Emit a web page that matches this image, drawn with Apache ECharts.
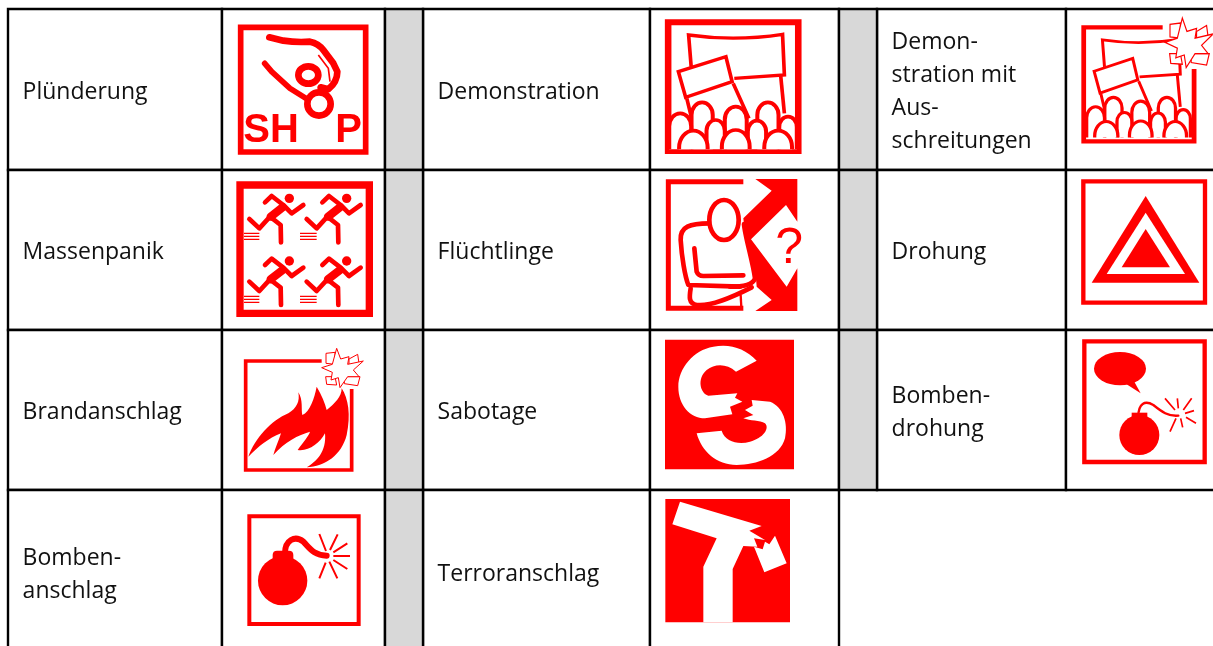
<!DOCTYPE html>
<html><head><meta charset="utf-8">
<style>html,body{margin:0;padding:0;background:#fff}#c{width:1213px;height:646px}</style>
<script src="https://cdn.jsdelivr.net/npm/echarts@6/dist/echarts.min.js"></script>
</head><body><div id="c"></div>
<script>
const columnEdges = [8, 222, 385, 423, 650, 839, 877, 1066, 1222];
const rowEdges = [9, 170, 330, 490, 654];
const gapColumns = [2, 5];
const labelsCol1 = ['Plünderung', 'Massenpanik', 'Brandanschlag', 'Bomben-\nanschlag'];
const labelsCol2 = ['Demonstration', 'Flüchtlinge', 'Sabotage', 'Terroranschlag'];
const labelsCol3 = ['Demon-\nstration mit\nAus-\nschreitungen', 'Drohung', 'Bomben-\ndrohung'];
const iconsCol1 = ['shop', 'panic', 'fire', 'bomb'];
const iconsCol2 = ['demo', 'refugee', 'sabotage', 'terror'];
const iconsCol3 = ['riot', 'threat', 'bombThreat'];
const RED = '#ff0000';

/* icon artwork: glyph outlines in a local grid */
const F = (d) => ({d, f: RED});
const S = (d, w, f) => ({d, s: RED, w, f: f || 'none'});
const R = (d, w, f) => ({d, s: RED, w, f: f || 'none', round: true});
const W = (d) => ({d, f: '#fff'});
const rectD = (a, b, c, e) => `M${a},${b}L${c},${b}L${c},${e}L${a},${e}Z`;
const circ = (x, y, r) => `M${x - r},${y}A${r},${r} 0 1 1 ${x + r},${y}A${r},${r} 0 1 1 ${x - r},${y}Z`;
const ell = (x, y, a, b) => `M${x - a},${y}A${a},${b} 0 1 1 ${x + a},${y}A${a},${b} 0 1 1 ${x - a},${y}Z`;
const arch = (x, t, r, b) => {
  const ry = Math.min(r * 1.3, b - t);
  return `M${x - r},${b}L${x - r},${t + ry}A${r},${ry} 0 0 1 ${x + r},${t + ry}L${x + r},${b}`;
};

const crowdParts = [
  [170, 307, 29], [262, 320, 30], [350, 307, 29],
  [110, 340, 30], [207, 360, 25], [320, 362, 25], [405, 350, 24],
  [146, 392, 39], [262, 390, 38], [378, 392, 38]
].map(([x, t, r]) => S(arch(x, t, r, 448), 11, '#fff'));

const demoContent = [
  S('M140,200L133,105Q260,125 390,103L395,225L258,235', 10),
  S('M385,228L395,340', 10),
  S('M128,295L148,385M255,250L298,355', 10),
  S('M105,215L235,170L252,245L125,292Z', 10, '#fff'),
  ...crowdParts
];
const burstParts = [
  S('M330,88L303,85L303,55L330,52Z', 3, '#fff'),
  S('M372,72L398,58L402,85L372,90Z', 3, '#fff'),
  S('M358,125L405,125L398,152L358,146Z', 3, '#fff'),
  S('M302,125L330,125L335,150L305,148Z', 3, '#fff'),
  S('M335,40L347,72L372,65L368,88L415,78L385,105L402,125L368,125L345,158L340,128L318,135L322,112L290,98L322,88Z', 3, '#fff')
];
const runner = (dx, dy) => [
  {d: circ(208 + dx, 85 + dy, 14), f: RED},
  R(`M${188 + dx},${112 + dy}L${152 + dx},${140 + dy}`, 25),
  R(`M${190 + dx},${105 + dy}L${155 + dx},${78 + dy}L${135 + dx},${97 + dy}M${190 + dx},${105 + dy}L${215 + dx},${130 + dy}L${250 + dx},${105 + dy}`, 14),
  R(`M${150 + dx},${140 + dy}L${182 + dx},${165 + dy}L${183 + dx},${217 + dy}M${150 + dx},${140 + dy}L${118 + dx},${175 + dy}L${88 + dx},${147 + dy}`, 14)
];
const speed = (x0, x1, y) => S(`M${x0},${y}L${x1},${y}M${x0},${y + 9}L${x1},${y + 9}M${x0},${y + 18}L${x1},${y + 18}`, 4);

const iconArt = {
  shop: [{o: [0, 0], s: [1 / 3, 1 / 3], parts: [
    S(rectD(722, 82, 1097, 456), 17),
    R('M808,112L850,122Q890,128 930,125Q955,130 970,150L1000,190L1012,215Q1012,245 985,268L962,262', 20),
    R('M794,190L815,215L870,265L918,295', 17),
    R(ell(925, 225, 30, 26), 20),
    S('M955,165L985,205L990,245', 5),
    S(circ(957, 312, 35), 20),
    {t: 'SH', x: 730, y: 392, size: 120},
    {t: 'P', x: 1006, y: 392, size: 120}
  ]}],
  demo: [{o: [640, 0], s: [1 / 2.736, 1 / 3], parts: [
    S(rectD(77, 67, 433, 453), 18),
    ...demoContent
  ]}],
  riot: [
    {o: [640, 0], s: [1 / 2.736, 1 / 3], parts: [S('M1430,82L1214,82L1214,424L1516,424L1516,207', 13)]},
    {o: [1062.9, 10.1], s: [.813 / 2.736, .853 / 3], parts: demoContent},
    {o: [1165 - 290 * .385, 18 - 40 * .42], s: [.385, .42], parts: burstParts}
  ],
  panic: [{o: [220, 170], s: [1 / 3, 1 / 3], parts: [
    S(rectD(60, 45, 448, 430), 22),
    ...runner(0, 0), ...runner(172, 0), ...runner(0, 188), ...runner(172, 188),
    speed(72, 118, 190), speed(240, 290, 190), speed(72, 118, 379), speed(240, 290, 379)
  ]}],
  refugee: [{o: [650, 170], s: [1 / 3, 1 / 3], parts: [
    S('M280,35L55,35L55,415L280,415', 15),
    F('M316,27L442,27L442,155L408,105L303,208L410,350L442,295L442,423L316,423L365,390L320,350L318,325C310,280 285,200 282,162L280,145L365,62Z'),
    R('M178,160C120,160 90,170 92,210C95,260 105,320 115,345L270,350', 14),
    R('M133,235L140,305Q145,318 160,318L280,316', 14),
    R('M282,162C285,200 310,280 315,325C310,345 280,350 240,350', 14),
    R('M122,355C118,380 115,400 140,405C180,410 250,380 305,352', 14),
    S('M272,375L274,412', 7),
    S(ell(222, 150, 44, 60), 14, '#fff'),
    {t: '?', x: 376, y: 238, size: 150, regular: true}
  ]}],
  fire: [
    {o: [225, 335], s: [1 / 3, 1 / 3], parts: [
      S('M290,78L62,78L62,405L380,405L380,162', 11),
      F('M70,365C90,310 140,255 190,235C215,220 225,200 220,172C235,195 228,225 232,240C255,230 268,190 275,155C290,180 300,205 305,225C330,205 350,185 350,160C370,190 378,240 365,300C350,360 300,395 245,397C275,380 305,350 300,295C285,325 250,350 218,345C235,320 250,305 255,290C220,300 180,320 145,360C150,340 160,320 168,295C130,310 100,335 70,365Z')
    ]},
    {o: [225, 335], s: [1 / 3, 1 / 3], parts: burstParts}
  ],
  sabotage: [{o: [650, 335], s: [1 / 3, 1 / 3], parts: [
    F(rectD(45, 14, 432, 403)),
    W('M320,77C285,40 240,25 190,35C130,45 85,100 85,155C85,210 120,250 165,250L247,238L240,215L277,200L255,188L262,175L175,182C150,175 140,130 170,105C195,85 230,85 258,110Z'),
    W('M140,295L215,287C225,320 265,330 300,320C340,310 360,280 345,265C330,255 300,258 280,250L310,240L285,225L308,212L305,195L360,200C400,215 415,265 405,310C390,365 320,390 260,390C200,390 155,350 140,295Z')
  ]}],
  terror: [{o: [650, 490], s: [1 / 3, 1 / 3], parts: [
    F(rectD(46, 27, 420, 397)),
    W('M90,35L335,108L298,122L345,150L312,145L322,170L280,168L248,237L248,397L160,397L160,230L200,145L67,103Z'),
    W('M375,137L410,220L343,247L312,170L338,178L345,155L358,163Z')
  ]}],
  threat: [{o: [1070, 170], s: [1 / 3, 1 / 3], parts: [
    S(rectD(40, 34, 405, 398), 13),
    F('M227,78L388,338L65,338Z'), W('M227,128L345,312L110,312Z'), F('M227,177L300,292L155,292Z')
  ]}],
  bombThreat: [{o: [1070, 170], s: [1 / 3, 1 / 3], parts: [
    S(rectD(43, 514, 404, 876), 13),
    F(ell(150, 596, 78, 50)), F('M190,630L212,670L165,640Z'),
    F(circ(208, 795, 60)), F(rectD(185, 728, 232, 750)),
    R('M205,740C205,700 225,690 250,705C275,725 295,740 325,737', 7),
    S('M285,685L315,720M322,685L325,715M365,685L340,720M372,722L345,730M378,760L348,742M338,772L332,745M300,785L318,745', 5)
  ]}],
  bomb: [{o: [225, 490], s: [1 / 3, 1 / 3], parts: [
    S(rectD(73, 79, 401, 402), 12),
    F(circ(173, 272, 74)), F('M143,215L143,195Q143,182 156,182L192,182Q205,182 205,195L205,215Z'),
    R('M180,190C180,150 210,135 235,155C255,175 265,195 305,197', 18),
    S('M283,132L303,183M338,133L315,180M367,160L325,187M375,198L325,198M367,237L325,210M337,265L313,215M283,265L302,218', 6)
  ]}]
};

function toChildren(parts) {
  return parts.map(p => {
    if (p.t) return {type: 'text', style: {text: p.t, x: p.x, y: p.y, fill: RED, textAlign: 'left', textVerticalAlign: 'middle',
      font: `${p.regular ? '' : 'bold '}${p.size}px "Liberation Sans", Arial, sans-serif`}};
    return {type: 'path', shape: {pathData: p.d},
      style: {fill: p.f || 'none', stroke: p.s || 'none', lineWidth: p.w || 0,
        lineJoin: p.round ? 'round' : 'miter', lineCap: p.round ? 'round' : 'butt'}};
  });
}

/* table rows built from the lists */
const columnLists = [[0, labelsCol1, iconsCol1], [3, labelsCol2, iconsCol2], [6, labelsCol3, iconsCol3]];
const cellData = [];
columnLists.forEach(([c, labels]) => {
  labels.forEach((_, r) => {
    cellData.push([columnEdges[c], columnEdges[c + 1], rowEdges[r], rowEdges[r + 1], 0]);
    cellData.push([columnEdges[c + 1], columnEdges[c + 2], rowEdges[r], rowEdges[r + 1], 0]);
  });
});
gapColumns.forEach((c, i) => {
  const rows = i === 0 ? 4 : 3;
  for (let r = 0; r < rows; r++) cellData.push([columnEdges[c], columnEdges[c + 1], rowEdges[r], rowEdges[r + 1], 1]);
});
const labelData = [], iconData = [];
columnLists.forEach(([c, labels, icons]) => {
  labels.forEach((l, r) => {
    labelData.push([columnEdges[c] + 14.6, (rowEdges[r] + rowEdges[r + 1]) / 2 + 2.6, l]);
    iconData.push([0, 0, icons[r]]);
  });
});

const chart = echarts.init(document.getElementById('c'), null, {renderer: 'canvas'});
chart.setOption({
  animation: false,
  backgroundColor: '#fff',
  grid: {left: 0, right: 0, top: 0, bottom: 0},
  xAxis: {type: 'value', min: 0, max: 1213, show: false},
  yAxis: {type: 'value', min: 0, max: 646, inverse: true, show: false},
  tooltip: {show: false},
  series: [
    {type: 'custom', silent: true, clip: false, data: cellData, encode: {x: [0, 1], y: [2, 3]}, z: 1,
      renderItem(params, api) {
        const a = api.coord([api.value(0), api.value(2)]), b = api.coord([api.value(1), api.value(3)]);
        return {type: 'rect', shape: {x: a[0], y: a[1], width: b[0] - a[0], height: b[1] - a[1]},
          style: {fill: api.value(4) ? '#d8d8d8' : '#fff', stroke: '#000', lineWidth: 2.4}};
      }},
    {type: 'custom', silent: true, clip: false, data: iconData, encode: {x: 0, y: 1}, z: 2,
      renderItem(params, api) {
        const art = iconArt[iconData[params.dataIndex][2]];
        return {type: 'group', children: art.map(l => {
          const p = api.coord(l.o);
          return {type: 'group', x: p[0], y: p[1], scaleX: l.s[0], scaleY: l.s[1], children: toChildren(l.parts)};
        })};
      }},
    {type: 'custom', silent: true, clip: false, data: labelData, encode: {x: 0, y: 1}, z: 3,
      renderItem(params, api) {
        const p = api.coord([api.value(0), api.value(1)]);
        const lines = labelData[params.dataIndex][2].split('\n');
        const lh = 33;
        return {type: 'group', children: lines.map((t, i) => ({type: 'text',
          style: {text: t, x: p[0], y: p[1] + (i - (lines.length - 1) / 2) * lh, fill: '#111',
            textAlign: 'left', textVerticalAlign: 'middle', font: '23px "Open Sans", sans-serif'}}))};
      }}
  ]
});
</script></body></html>
